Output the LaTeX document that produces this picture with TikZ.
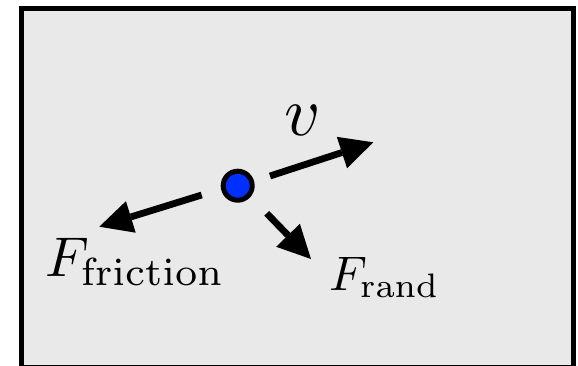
\documentclass[tikz,border=0pt]{standalone}
\usetikzlibrary{arrows.meta}
\definecolor{boxfill}{RGB}{233,233,233}
\definecolor{dotblue}{RGB}{0,48,255}
\tikzset{
  force/.style={line width=6.8pt, -{Triangle[length=33pt,width=33pt,line width=0pt]}},
  particle/.style={circle, draw=black, line width=5pt, fill=dotblue, minimum size=29pt, inner sep=0pt},
  lbl/.style={anchor=base west, inner sep=0pt, outer sep=0pt}
}
\begin{document}
\begin{tikzpicture}[x=1pt,y=-1pt]
\useasboundingbox (0,0) rectangle (578,365);
\draw[line width=5pt, fill=boxfill] (21.8,8.5) rectangle (573.5,367);
\node[particle] (p) at (237.7,185.7) {};
\coordinate (vs) at (270,176);
\coordinate (ve) at (373.3,142.3);
\coordinate (fs) at (201.7,195);
\coordinate (fe) at (99.3,226.7);
\coordinate (rs) at (266.7,213.3);
\coordinate (re) at (311,259);
\draw[force] (vs) -- (ve);
\draw[force] (fs) -- (fe);
\draw[force] (rs) -- (re);
\node[lbl, scale=7] (lv) at (284,135) {$v$};
\node[lbl, scale=5.6] (lf) at (45,276.7) {$F_{\mathrm{friction}}$};
\node[lbl, scale=4.85] (lr) at (329,290) {$F_{\mathrm{rand}}$};
\end{tikzpicture}
\end{document}
